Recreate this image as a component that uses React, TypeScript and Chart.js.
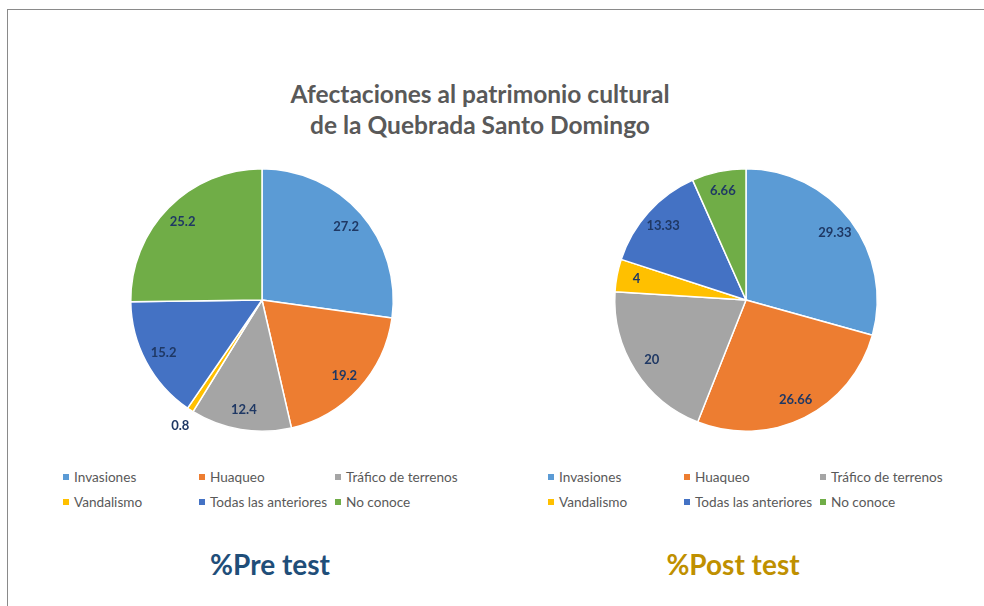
import React, { useEffect, useRef } from "react";
import { Chart, registerables } from "chart.js";

Chart.register(...registerables);

const TITLE_LINES = ["Afectaciones al patrimonio cultural", "de la Quebrada Santo Domingo"];
const CATEGORIES = ["Invasiones", "Huaqueo", "Tráfico de terrenos", "Vandalismo", "Todas las anteriores", "No conoce"];
const PRE_VALUES = [27.2, 19.2, 12.4, 0.8, 15.2, 25.2];
const POST_VALUES = [29.33, 26.66, 20, 4, 13.33, 6.66];
const COLORS = ["#5B9BD5", "#ED7D31", "#A5A5A5", "#FFC000", "#4472C4", "#70AD47"];
const PRE_LABEL = "%Pre test";
const POST_LABEL = "%Post test";

const labelPlugin = {
  id: "sliceLabels",
  afterDatasetsDraw(chart: any) {
    const ctx = chart.ctx;
    const meta = chart.getDatasetMeta(0);
    const data = chart.data.datasets[0].data as number[];
    ctx.save();
    ctx.font = "bold 13px Lato";
    ctx.fillStyle = "#1F3864";
    ctx.textAlign = "center";
    ctx.textBaseline = "middle";
    meta.data.forEach((arc: any, i: number) => {
      const p = arc.getProps(["x", "y", "startAngle", "endAngle", "outerRadius"], true);
      const mid = (p.startAngle + p.endAngle) / 2;
      const v = data[i];
      const r = v < 2 ? p.outerRadius * 1.14 : p.outerRadius * 0.85;
      ctx.fillText(String(v), p.x + Math.cos(mid) * r, p.y + Math.sin(mid) * r);
    });
    ctx.restore();
  },
};

function PieChart({ values, left }: { values: number[]; left: number }) {
  const ref = useRef<HTMLCanvasElement | null>(null);
  useEffect(() => {
    if (!ref.current) return;
    const chart = new Chart(ref.current, {
      type: "pie",
      data: {
        labels: CATEGORIES,
        datasets: [
          {
            data: values,
            backgroundColor: COLORS,
            borderColor: "#FFFFFF",
            borderWidth: 1.5,
          },
        ],
      },
      options: {
        responsive: false,
        animation: false,
        layout: { padding: 18 },
        plugins: { legend: { display: false }, tooltip: { enabled: false } },
      },
      plugins: [labelPlugin],
    });
    return () => chart.destroy();
  }, [values]);
  return (
    <canvas
      ref={ref}
      width={300}
      height={300}
      style={{ position: "absolute", left, top: 150, width: 300, height: 300 }}
    />
  );
}

function Legend({ left }: { left: number }) {
  return (
    <div
      style={{
        position: "absolute",
        left,
        top: 468,
        display: "grid",
        gridTemplateColumns: "136px 136px 150px",
        rowGap: 7,
        fontFamily: "Lato, sans-serif",
        fontSize: 13.6,
        color: "#595959",
        lineHeight: "18px",
      }}
    >
      {CATEGORIES.map((c, i) => (
        <div key={c} style={{ display: "flex", alignItems: "center", whiteSpace: "nowrap" }}>
          <span
            style={{
              display: "inline-block",
              width: 6,
              height: 6,
              background: COLORS[i],
              marginRight: 5,
            }}
          />
          {c}
        </div>
      ))}
    </div>
  );
}

export default function App() {
  return (
    <div
      style={{
        position: "absolute",
        left: 0,
        top: 0,
        width: 984,
        height: 606,
        background: "#FFFFFF",
        overflow: "hidden",
      }}
    >
      <div
        style={{
          position: "absolute",
          left: 7,
          top: 9,
          width: 990,
          height: 620,
          borderTop: "1.5px solid #8A8A8A",
          borderLeft: "1.5px solid #8A8A8A",
        }}
      />
      <div
        style={{
          position: "absolute",
          left: 180,
          width: 600,
          top: 78,
          textAlign: "center",
          fontFamily: "Lato, sans-serif",
          fontWeight: "bold",
          fontSize: 24.5,
          lineHeight: "31px",
          color: "#595959",
        }}
      >
        {TITLE_LINES.map((t) => (
          <div key={t}>{t}</div>
        ))}
      </div>
      <PieChart values={PRE_VALUES} left={112} />
      <PieChart values={POST_VALUES} left={596} />
      <Legend left={63} />
      <Legend left={548} />
      <div
        style={{
          position: "absolute",
          left: 120,
          width: 300,
          top: 547,
          textAlign: "center",
          fontFamily: "Lato, sans-serif",
          fontWeight: "bold",
          fontSize: 28,
          color: "#1F4E79",
        }}
      >
        {PRE_LABEL}
      </div>
      <div
        style={{
          position: "absolute",
          left: 583,
          width: 300,
          top: 547,
          textAlign: "center",
          fontFamily: "Lato, sans-serif",
          fontWeight: "bold",
          fontSize: 28,
          color: "#BF9000",
        }}
      >
        {POST_LABEL}
      </div>
    </div>
  );
}
